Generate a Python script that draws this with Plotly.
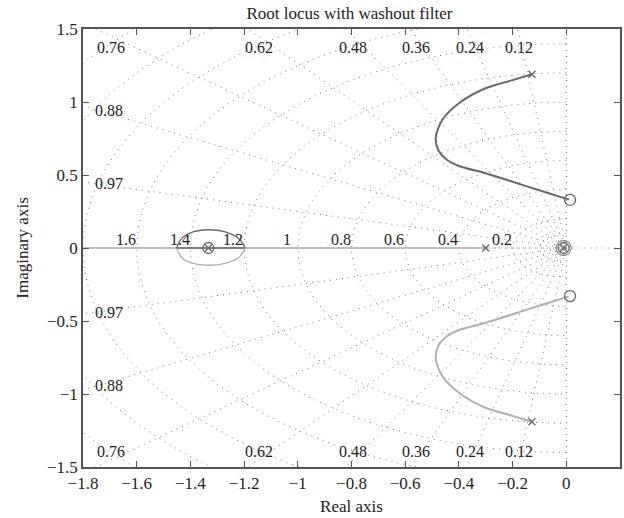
import numpy as np
import plotly.graph_objects as go

# ---- data ----
zeta_vals = [0.12, 0.24, 0.36, 0.48, 0.62, 0.76, 0.88, 0.97]
wn_label_vals = [0.2, 0.4, 0.6, 0.8, 1.0, 1.2, 1.4, 1.6]
wn_circle_vals = [0.05, 0.1, 0.2, 0.4, 0.6, 0.8, 1.0, 1.2, 1.4, 1.6, 1.8, 2.0, 2.2, 2.4]

upper_x = [-0.128, -0.2, -0.301, -0.4, -0.462, -0.486, -0.478, -0.445, -0.4, -0.301, -0.2, -0.104, -0.005, 0.010]
upper_y = [1.19, 1.15, 1.094, 0.991, 0.877, 0.762, 0.675, 0.605, 0.562, 0.512, 0.454, 0.397, 0.34, 0.331]
lower_x = [-0.128, -0.2, -0.301, -0.4, -0.462, -0.486, -0.478, -0.445, -0.4, -0.301, -0.2, -0.104, -0.005, 0.010]
lower_y = [-1.19, -1.15, -1.094, -0.991, -0.877, -0.762, -0.675, -0.605, -0.562, -0.512, -0.454, -0.397, -0.34, -0.331]

loop_up_x = [-1.452, -1.43, -1.39, -1.33, -1.27, -1.22, -1.196]
loop_up_y = [0.0, 0.07, 0.11, 0.125, 0.11, 0.065, 0.0]
loop_lo_x = [-1.452, -1.43, -1.39, -1.33, -1.27, -1.22, -1.196]
loop_lo_y = [0.0, -0.07, -0.105, -0.118, -0.105, -0.065, 0.0]

real_branch_x = [-1.8, -0.3]
real_seg_x = [-1.452, -1.196]

pole_x = [-0.128, -0.128, -0.3, -1.333, -0.01]
pole_y = [1.19, -1.19, 0.0, 0.0, 0.0]
zero_x = [0.014, 0.014, -1.333, -0.01]
zero_y = [0.329, -0.329, 0.0, 0.0]
zero2_x = [-0.01]
zero2_y = [0.0]

x_ticks = [-1.8, -1.6, -1.4, -1.2, -1.0, -0.8, -0.6, -0.4, -0.2, 0.0]
x_ticklabels = ["−1.8", "−1.6", "−1.4", "−1.2", "−1", "−0.8", "−0.6", "−0.4", "−0.2", "0"]
y_ticks = [-1.5, -1.0, -0.5, 0.0, 0.5, 1.0, 1.5]
y_ticklabels = ["−1.5", "−1", "−0.5", "0", "0.5", "1", "1.5"]

# ---- figure ----
FONT = "Liberation Serif"
grid_col = "#7a7a7a"
grid_dash = "1px,5px"
fig = go.Figure()

th = np.linspace(np.pi / 2, 3 * np.pi / 2, 400)
for wn in wn_circle_vals:
    fig.add_trace(go.Scatter(x=wn * np.cos(th), y=wn * np.sin(th), mode="lines",
                             line=dict(color=grid_col, width=1, dash=grid_dash),
                             hoverinfo="skip", showlegend=False))
R = 3.0
for z in zeta_vals + [0.0, 1.0]:
    s = np.sqrt(1 - z ** 2)
    fig.add_trace(go.Scatter(x=[-R * z, 0, -R * z], y=[R * s, 0, -R * s], mode="lines",
                             line=dict(color=grid_col, width=1, dash=grid_dash),
                             hoverinfo="skip", showlegend=False))
fig.add_trace(go.Scatter(x=[0, 0.2], y=[0, 0], mode="lines",
                         line=dict(color=grid_col, width=1, dash=grid_dash),
                         hoverinfo="skip", showlegend=False))

dark = "#6a6a6a"
light = "#b0b0b0"
fig.add_trace(go.Scatter(x=real_branch_x, y=[0, 0], mode="lines",
                         line=dict(color=light, width=1.3), showlegend=False))
fig.add_trace(go.Scatter(x=real_seg_x, y=[0, 0], mode="lines",
                         line=dict(color=dark, width=1.3), showlegend=False))
fig.add_trace(go.Scatter(x=loop_up_x, y=loop_up_y, mode="lines",
                         line=dict(color=dark, width=1.3, shape="spline"), showlegend=False))
fig.add_trace(go.Scatter(x=loop_lo_x, y=loop_lo_y, mode="lines",
                         line=dict(color=light, width=1.3, shape="spline"), showlegend=False))
fig.add_trace(go.Scatter(x=upper_x, y=upper_y, mode="lines",
                         line=dict(color=dark, width=2, shape="spline", smoothing=0.8), showlegend=False))
fig.add_trace(go.Scatter(x=lower_x, y=lower_y, mode="lines",
                         line=dict(color=light, width=2, shape="spline", smoothing=0.8), showlegend=False))

fig.add_trace(go.Scatter(x=pole_x, y=pole_y, mode="markers",
                         marker=dict(symbol="x-thin", size=7, line=dict(color="#666", width=1.3)),
                         showlegend=False))
fig.add_trace(go.Scatter(x=zero_x, y=zero_y, mode="markers",
                         marker=dict(symbol="circle-open", size=11, color="#666", line=dict(width=1.3)),
                         showlegend=False))
fig.add_trace(go.Scatter(x=zero2_x, y=zero2_y, mode="markers",
                         marker=dict(symbol="circle-open", size=15, color="#888", line=dict(width=1.2)),
                         showlegend=False))

LBL = 16
XL = -1.705
ann = []
for z in zeta_vals:
    s = np.sqrt(1 - z ** 2)
    xt = -1.45 * z / s
    if xt >= XL:
        for yy in (1.375, -1.395):
            ann.append(dict(x=xt, y=yy, text=f"{z:g}", showarrow=False,
                            font=dict(family=FONT, size=LBL, color="#222")))
    else:
        yl = 1.75 * s / z
        if yl > 1.3:
            pair = (1.375, -1.395)
        else:
            pair = (yl, -yl)
        for yy in pair:
            ann.append(dict(x=XL, y=yy, text=f"{z:g}", showarrow=False,
                            font=dict(family=FONT, size=LBL, color="#222")))
for wn in wn_label_vals:
    ann.append(dict(x=-wn - 0.04, y=0.058, text=f"{wn:g}", showarrow=False,
                    font=dict(family=FONT, size=LBL, color="#222")))
fig.update_layout(annotations=ann)

TF = 17
axis_common = dict(showgrid=False, zeroline=False, showline=True, linecolor="#555",
                   linewidth=1.5, mirror="ticks", ticks="inside", ticklen=6,
                   tickcolor="#555", tickwidth=1.2,
                   tickfont=dict(family=FONT, size=TF, color="#222"))
fig.update_xaxes(range=[-1.8, 0.2], tickvals=x_ticks, ticktext=x_ticklabels,
                 title=dict(text="Real axis", font=dict(family=FONT, size=TF, color="#222"), standoff=8),
                 **axis_common)
fig.update_yaxes(range=[-1.5, 1.5], tickvals=y_ticks, ticktext=y_ticklabels,
                 title=dict(text="Imaginary axis", font=dict(family=FONT, size=TF, color="#222"), standoff=14),
                 **axis_common)
fig.update_layout(
    width=624, height=518,
    margin=dict(l=83, r=2, t=29, b=51),
    plot_bgcolor="white", paper_bgcolor="white",
    title=dict(text="Root locus with washout filter", x=0.56, xanchor="center", y=0.975,
               yanchor="middle", font=dict(family=FONT, size=TF, color="#222")),
)
fig.write_html("out.html")
